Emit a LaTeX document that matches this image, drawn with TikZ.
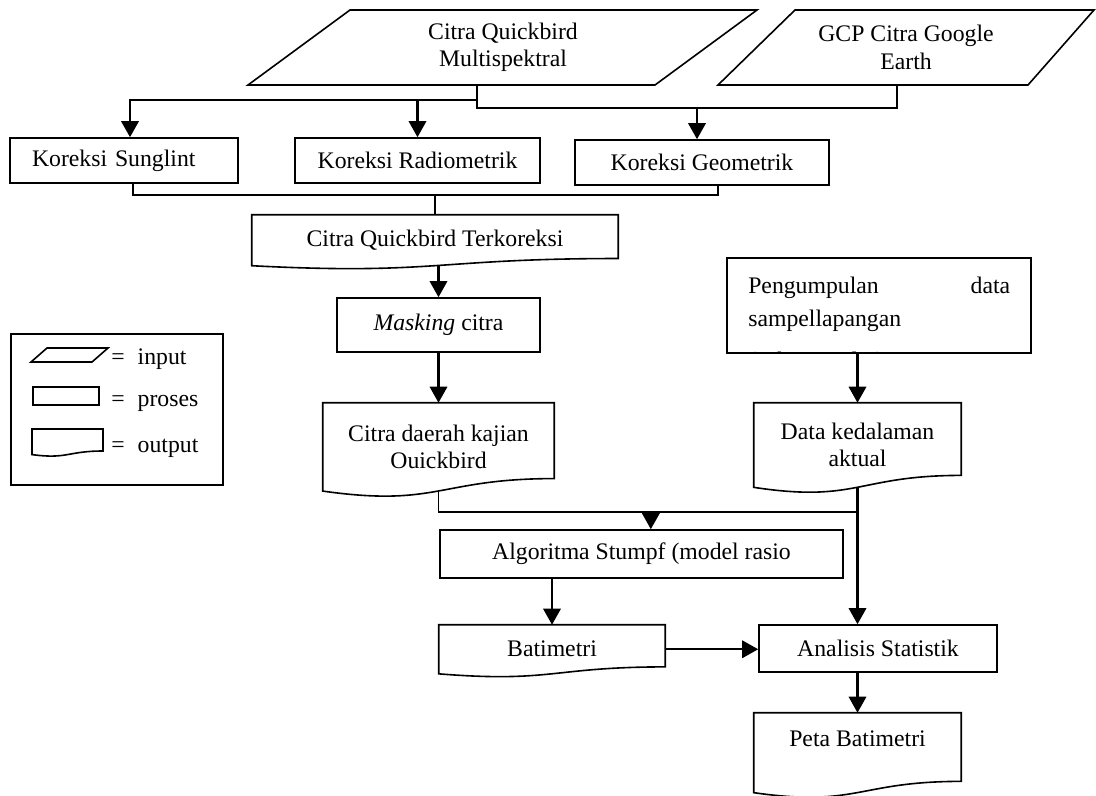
\documentclass[tikz,border=0pt]{standalone}
\usepackage{fontspec}
\setmainfont{Liberation Serif}
\usetikzlibrary{arrows.meta,calc}
\newcommand{\figfont}{\fontsize{17.8pt}{20.5pt}\selectfont}
\newcommand{\docshape}[1]{%
  \draw[shp] (#1.north west) -- (#1.north east)
    -- ($(#1.north east)!0.8596!(#1.south east)$)
    .. controls ($(#1.north)!0.8596!(#1.south)$) and ($(#1.north)!1.187!(#1.south)$)
    .. ($(#1.north west)!1.001!(#1.south west)$) -- cycle;}
\begin{document}
\begin{tikzpicture}[x=0.75pt,y=-0.75pt,
  base/.style={font=\figfont, inner sep=0pt, align=center, text=black},
  shp/.style={draw=black, line width=1.2pt, line join=miter},
  proc/.style={base, draw=black, line width=1.2pt},
  outb/.style={base},
  conn/.style={draw=black, line width=1.1pt},
  arr/.style={draw=black, line width=1.7pt, -{Triangle[width=13pt,length=12pt]}}]
\useasboundingbox (0,0) rectangle (1096,796);
\fill[white] (0,0) rectangle (1096,796);

% helper levels
\coordinate (yA) at (0,100);
\coordinate (yB) at (0,108);
\coordinate (yC) at (0,195);
\coordinate (yD) at (0,512);

% inputs
\draw[shp] (350,10) -- (757,10) -- (655,85) -- (248,85) -- cycle;
\node[base, minimum height=56.25pt] (qb) at (503,47.5) {Citra Quickbird\\Multispektral};
\draw[shp] (795,10) -- (1094,10) -- (1028,85) -- (718,85) -- cycle;
\node[base, minimum height=56.25pt] (gcp) at (906,47.5) {GCP Citra Google\\Earth};
\coordinate (qbo) at ([xshift=-19.5pt]qb.south);
\coordinate (gco) at ([xshift=-6.75pt]gcp.south);

% corrections
\node[proc, minimum width=171pt, minimum height=33.75pt, text width=138pt, align=left] (sun) at (124,160.5) {\raisebox{-2pt}{Koreksi Sunglint}};
\node[proc, minimum width=183.75pt, minimum height=33.75pt] (rad) at (417.5,160.5) {Koreksi Radiometrik};
\node[proc, minimum width=190.5pt, minimum height=33.75pt] (geo) at (702,162.5) {Koreksi Geometrik};

% outputs and processes
\node[outb, minimum width=274.5pt, minimum height=37.8pt] (terk) at (435,240.2) {Citra Quickbird Terkoreksi};
\docshape{terk}
\node[proc, minimum width=152.25pt, minimum height=40.5pt] (mask) at (438.5,325) {\textit{Masking} citra};
\node[outb, minimum width=173.25pt, minimum height=65.8pt] (daerah) at (438.5,446.85) {Citra daerah kajian\\Ouickbird};
\docshape{daerah}
\node[proc, minimum width=228pt, minimum height=71.25pt] (peng) at (879,305.5) {};
\begin{scope}
  \clip ([xshift=0.7pt,yshift=-0.7pt]peng.north west) rectangle ([xshift=-0.7pt,yshift=0.7pt]peng.south east);
  \node[base, anchor=north west, align=left, text width=196.5pt, font=\fontsize{17.8pt}{24.75pt}\selectfont] (pengt) at (748,277) {Pengumpulan\hfill data\\sampellapangan\\[6.5pt](echosounder)};
\end{scope}
\node[outb, minimum width=155.25pt, minimum height=63pt] (kedal) at (857.5,445) {Data kedalaman\\aktual};
\docshape{kedal}
\node[proc, minimum width=302.25pt, minimum height=36pt] (alg) at (641.5,554) {Algoritma Stumpf (model rasio};
\node[outb, minimum width=169.5pt, minimum height=36.4pt] (bati) at (552,649.25) {Batimetri};
\docshape{bati}
\node[proc, minimum width=178.5pt, minimum height=35.25pt] (ana) at (878,648.5) {Analisis Statistik};
\node[outb, minimum width=155.25pt, minimum height=59.5pt] (peta) at (857.5,752.65) {Peta Batimetri\\\mbox{}};
\docshape{peta}

% connectors top
\draw[conn] (qbo) -- (qbo |- yB) -| (gco);
\draw[arr] (qbo |- yA) -| ([xshift=4.5pt]sun.north);
\draw[arr] (rad.north |- yA) -- (rad.north);
\draw[arr] ([xshift=-3.75pt]geo.north |- yB) -- ([xshift=-3.75pt]geo.north);
\draw[conn] ([xshift=6.75pt]sun.south) |- ([xshift=12pt]geo.south |- yC) -- ([xshift=12pt]geo.south);
\draw[conn] (terk.north |- yC) -- (terk.north);

% connectors middle
\draw[arr] (mask.north |- terk.south) -- (mask.north);
\draw[arr] (mask.south) -- (daerah.north);
\draw[arr] (kedal.north |- peng.south) -- (kedal.north);
\draw[conn] (daerah.south) -- (daerah.south |- yD) -- ([xshift=-1.5pt]kedal.south |- yD);
\draw[arr] ([xshift=7pt]alg.north |- yD) -- ([xshift=7pt]alg.north);
\draw[arr] (kedal.south) -- (kedal.south |- ana.north);
\draw[arr] (bati.north |- alg.south) -- (bati.north);
\draw[arr] (bati.east) -- (bati.east -| ana.west);
\draw[arr] (peta.north |- ana.south) -- (peta.north);

% legend
\node[draw=black, line width=1.2pt, minimum width=159pt, minimum height=113.25pt, inner sep=0pt] (leg) at (117,409.5) {};
\draw[shp] (31,362) -- (47,348) -- (108,348) -- (92,362) -- cycle;
\draw[shp] (33,387) rectangle (99,405);
\draw[shp] (32,429) -- (103,429) -- (103,451) .. controls (67.5,451) and (67.5,459.4) .. (32,454.6) -- cycle;
\node[base, anchor=west] (lin) at (111,359) {=\hspace{0.55em}input};
\node[base, anchor=west] (lpr) at (111,403) {=\hspace{0.55em}proses};
\node[base, anchor=west] (lou) at (111,448) {=\hspace{0.55em}output};
\end{tikzpicture}
\end{document}
